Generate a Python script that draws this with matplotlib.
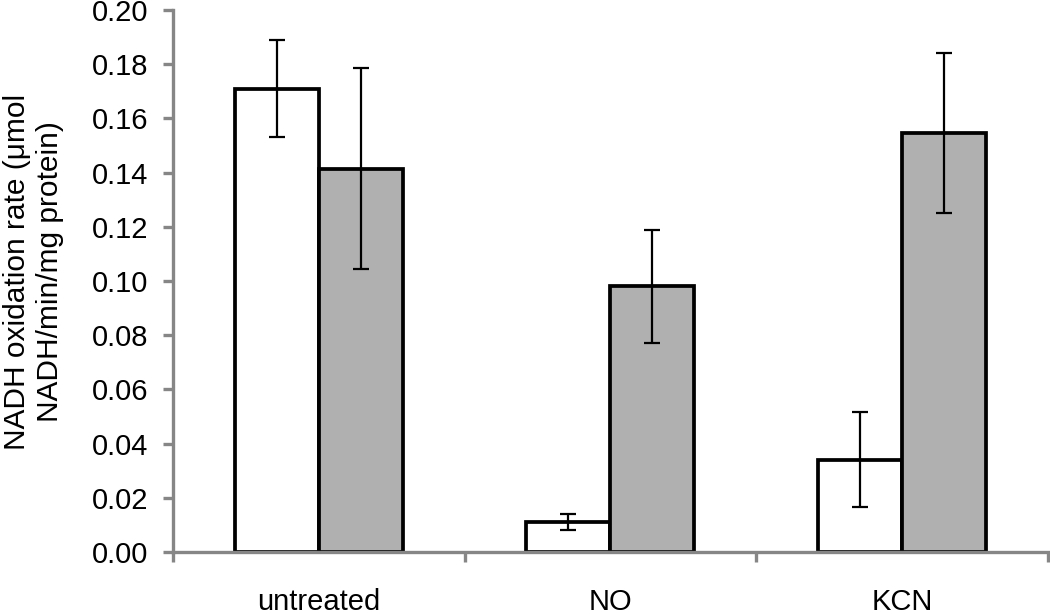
import matplotlib
matplotlib.use('Agg')
import matplotlib.pyplot as plt
import numpy as np

plt.rcParams['font.family'] = ['Liberation Sans', 'DejaVu Sans']

categories = ['untreated', 'NO', 'KCN']
white_vals = [0.171, 0.011, 0.034]
white_err = [0.018, 0.003, 0.0175]
gray_vals = [0.1415, 0.098, 0.1545]
gray_err = [0.037, 0.021, 0.0295]
yticks = [0.00, 0.02, 0.04, 0.06, 0.08, 0.10, 0.12, 0.14, 0.16, 0.18, 0.20]

fig = plt.figure(figsize=(10.5, 6.14), dpi=100)
ax = fig.add_axes([0.1648, 0.101, 0.833, 0.8827])

x = np.arange(len(categories))
w = 0.288
ekw = dict(elinewidth=1.6, capthick=1.6, ecolor='black')
ax.bar(x - w / 2, white_vals, w, color='white', edgecolor='black', linewidth=2.7,
       yerr=white_err, capsize=6, error_kw=ekw, zorder=2)
ax.bar(x + w / 2, gray_vals, w, color='#b0b0b0', edgecolor='black', linewidth=2.7,
       yerr=gray_err, capsize=6, error_kw=ekw, zorder=2)

ax.set_xlim(-0.5, 2.5)
ax.set_ylim(0, 0.20)
ax.set_yticks(yticks)
ax.set_yticklabels(['%.2f' % v for v in yticks], fontsize=21)
ax.set_xticks(x)
ax.set_xticklabels(categories, fontsize=21)
ax.set_xticks([-0.5, 0.5, 1.5, 2.5], minor=True)
ax.tick_params(axis='x', which='major', length=0, pad=26)
ax.tick_params(axis='x', which='minor', length=7, width=2.4, color='#868686', direction='out')
ax.tick_params(axis='y', length=7, width=2.4, color='#868686', direction='out', pad=11)

for side in ['top', 'right']:
    ax.spines[side].set_visible(False)
for side in ['left', 'bottom']:
    ax.spines[side].set_color('#868686')
    ax.spines[side].set_linewidth(2.4)

ax.set_ylabel('NADH oxidation rate (\u03bcmol\nNADH/min/mg protein)', fontsize=21.5,
              linespacing=1.25)
ax.yaxis.set_label_coords(-0.1246, 0.517)

fig.savefig('out.png', dpi=100)
